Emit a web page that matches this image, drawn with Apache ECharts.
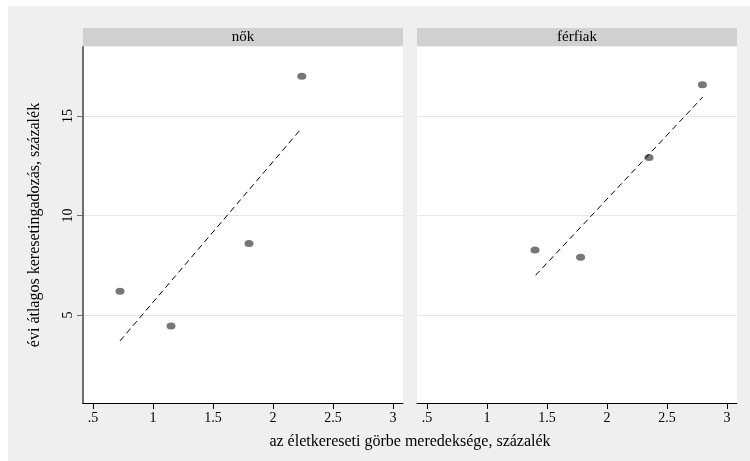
<!DOCTYPE html>
<html>
<head>
<meta charset="utf-8">
<script src="https://cdn.jsdelivr.net/npm/echarts@6/dist/echarts.min.js"></script>
<style>
html,body{margin:0;padding:0;background:#fff;}
#c{width:750px;height:461px;}
</style>
</head>
<body>
<div id="c"></div>
<script>
var panelTitles = ['nők', 'férfiak'];
var xTicks = [0.5, 1, 1.5, 2, 2.5, 3];
var yTicks = [5, 10, 15];
var womenPoints = [[0.725, 6.2], [1.15, 4.45], [1.8, 8.6], [2.24, 17.0]];
var womenFit = [[0.725, 3.7], [2.24, 14.4]];
var menPoints = [[1.4, 8.27], [1.78, 7.9], [2.35, 12.92], [2.795, 16.57]];
var menFit = [[1.405, 7.0], [2.797, 15.95]];
var yTitle = 'évi átlagos keresetingadozás, százalék';
var xTitle = 'az életkereseti görbe meredeksége, százalék';

var FONT = '"Liberation Serif", "DejaVu Serif", serif';
var chart = echarts.init(document.getElementById('c'), null, {renderer: 'canvas'});

function xAxisCfg(idx) {
  return {
    gridIndex: idx, type: 'value', min: 0.4167, max: 3.0833,
    axisLine: {show: true, lineStyle: {color: '#000', width: 1}},
    axisTick: {show: true, length: 6, customValues: xTicks, lineStyle: {color: '#000'}},
    axisLabel: {show: true, customValues: xTicks, margin: 8, color: '#000', fontFamily: FONT, fontSize: 14,
      formatter: function (v) { return v < 1 ? String(v).replace(/^0/, '') : String(v); }},
    splitLine: {show: false}
  };
}
function yAxisCfg(idx, showAxis) {
  var cfg = {
    gridIndex: idx, type: 'value', min: 0.58, max: 18.47,
    axisLine: {show: showAxis, lineStyle: {color: '#6e6e6e', width: 2}},
    axisTick: {show: showAxis, length: 6, customValues: yTicks, lineStyle: {color: '#6e6e6e'}},
    axisLabel: {show: showAxis, customValues: yTicks, rotate: 90, margin: 8, color: '#000', fontFamily: FONT, fontSize: 14},
    splitLine: {show: true, lineStyle: {color: '#e6e6e6', width: 1}}
  };
  if (showAxis) {
    cfg.name = yTitle;
    cfg.nameLocation = 'middle';
    cfg.nameGap = 40;
    cfg.nameTextStyle = {color: '#000', fontFamily: FONT, fontSize: 16};
  }
  return cfg;
}

var option = {
  animation: false,
  backgroundColor: '#fff',
  graphic: [
    {type: 'rect', z: -10, shape: {x: 8, y: 6, width: 742, height: 455}, style: {fill: '#efefef'}},
    {type: 'rect', z: -9, shape: {x: 83, y: 47, width: 320, height: 356}, style: {fill: '#fff'}},
    {type: 'rect', z: -9, shape: {x: 417, y: 47, width: 320, height: 356}, style: {fill: '#fff'}},
    {type: 'rect', shape: {x: 83, y: 28, width: 320, height: 18}, style: {fill: '#d0d0d0'}},
    {type: 'rect', shape: {x: 417, y: 28, width: 320, height: 18}, style: {fill: '#d0d0d0'}},
    {type: 'text', x: 243, y: 37, style: {text: panelTitles[0], fill: '#000', font: '15px ' + FONT, textAlign: 'center', textVerticalAlign: 'middle'}},
    {type: 'text', x: 577, y: 37, style: {text: panelTitles[1], fill: '#000', font: '15px ' + FONT, textAlign: 'center', textVerticalAlign: 'middle'}},
    {type: 'text', x: 410, y: 442, style: {text: xTitle, fill: '#000', font: '16px ' + FONT, textAlign: 'center', textVerticalAlign: 'middle'}}
  ],
  grid: [
    {left: 83, top: 47, width: 320, height: 356},
    {left: 417, top: 47, width: 320, height: 356}
  ],
  xAxis: [xAxisCfg(0), xAxisCfg(1)],
  yAxis: [yAxisCfg(0, true), yAxisCfg(1, false)],
  series: [
    {type: 'line', xAxisIndex: 0, yAxisIndex: 0, data: womenFit, symbol: 'none',
      lineStyle: {color: '#000', width: 1, type: [6, 4]}},
    {type: 'scatter', xAxisIndex: 0, yAxisIndex: 0, data: womenPoints, symbol: 'circle', symbolSize: [9, 7],
      itemStyle: {color: '#555'}},
    {type: 'line', xAxisIndex: 1, yAxisIndex: 1, data: menFit, symbol: 'none',
      lineStyle: {color: '#000', width: 1, type: [6, 4]}},
    {type: 'scatter', xAxisIndex: 1, yAxisIndex: 1, data: menPoints, symbol: 'circle', symbolSize: [9, 7],
      itemStyle: {color: '#555'}}
  ]
};
chart.setOption(option);
</script>
</body>
</html>
